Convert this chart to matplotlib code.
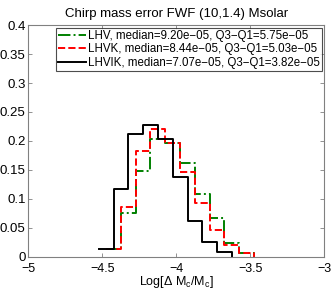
import numpy as np
import matplotlib
matplotlib.use('Agg')
import matplotlib.pyplot as plt

plt.rcParams['font.family'] = ['Liberation Sans', 'DejaVu Sans']
plt.rcParams['mathtext.fontset'] = 'custom'
plt.rcParams['mathtext.rm'] = 'Liberation Sans'
plt.rcParams['mathtext.it'] = 'Liberation Sans:italic'
plt.rcParams['mathtext.default'] = 'regular'

# histogram data (fraction per bin)
edges_lhv = np.arange(10 + 1) * 0.1 - 4.475
frac_lhv = [0.0125, 0.075, 0.148, 0.203, 0.197, 0.161, 0.108, 0.067, 0.0225, 0.0052]
edges_lhvk = np.arange(10 + 1) * 0.1 - 4.475
frac_lhvk = [0.0125, 0.086, 0.182, 0.220, 0.196, 0.146, 0.092, 0.0455, 0.0196, 0.0052]
edges_lhvik = np.arange(9 + 1) * 0.1 - 4.523
frac_lhvik = [0.0126, 0.1165, 0.212, 0.227, 0.204, 0.137, 0.062, 0.0254, 0.0075]

labels = ['LHV, median=9.20e\u221205, Q3\u2212Q1=5.75e\u221205',
          'LHVK, median=8.44e\u221205, Q3\u2212Q1=5.03e\u221205',
          'LHVIK, median=7.07e\u221205, Q3\u2212Q1=3.82e\u221205']

fig = plt.figure(figsize=(3.32, 2.92), dpi=100)
ax = fig.add_axes([28.3 / 332, 1 - 256.5 / 292, (324.3 - 28.3) / 332, (256.5 - 25.3) / 292])

series = [(edges_lhv, frac_lhv, (0, 0.5, 0), '-.'),
          (edges_lhvk, frac_lhvk, (1, 0, 0), '--'),
          (edges_lhvik, frac_lhvik, 'k', '-')]
for (e, f, c, ls), lab in zip(series, labels):
    y = list(f) + [0]
    ax.step(e, y, where='post', color=c, linestyle=ls, lw=1.4, label=lab)

ax.set_xlim(-5, -3)
ax.set_ylim(0, 0.4)
ax.set_xticks([-5, -4.5, -4, -3.5, -3])
ax.set_xticklabels(['\u22125', '\u22124.5', '\u22124', '\u22123.5', '\u22123'])
ax.set_yticks([0, 0.05, 0.1, 0.15, 0.2, 0.25, 0.3, 0.35, 0.4])
ax.set_yticklabels(['0', '0.05', '0.1', '0.15', '0.2', '0.25', '0.3', '0.35', '0.4'])
ax.tick_params(direction='in', top=True, right=True, length=3, width=0.6,
               color='#808080', labelsize=9.5, pad=2)
ax.tick_params(axis='x', pad=4.8, labelsize=9)
for s in ax.spines.values():
    s.set_color('#808080')
    s.set_linewidth(0.8)

ax.set_title('Chirp mass error FWF (10,1.4) Msolar', fontsize=9.5, pad=6)
ax.set_xlabel(r'Log[$\Delta$ M$_c$/M$_c$]', fontsize=9, labelpad=-0.5)

leg = ax.legend(loc='upper right', fontsize=8.3, frameon=True, fancybox=False,
                edgecolor='#202020', borderpad=0.2, labelspacing=0.12,
                handlelength=2.4, handletextpad=0.15, borderaxespad=0.2)
leg.get_frame().set_linewidth(0.8)

fig.savefig('out.png', dpi=100)
